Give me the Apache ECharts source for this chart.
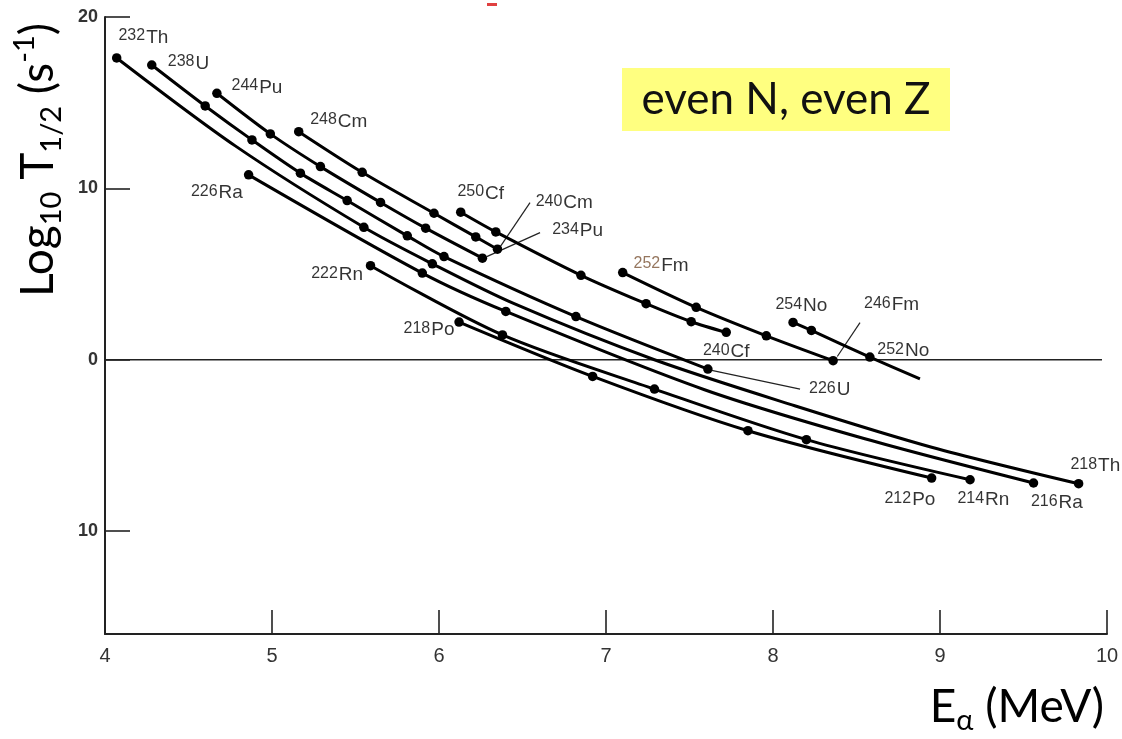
<!DOCTYPE html>
<html>
<head>
<meta charset="utf-8">
<script src="https://cdn.jsdelivr.net/npm/echarts@6/dist/echarts.min.js"></script>
<style>
  html, body { margin: 0; background: #fff; }
  #chart { width: 1122px; height: 739px; }
</style>
</head>
<body>
<div id="chart"></div>
<script>
// Q-alpha (MeV), log10 T1/2 (s), 1 = dot drawn at this point
const thorium = [[4.07, 17.61, 1], [4.78, 12.48, 0], [5.55, 7.73, 1], [5.96, 5.6, 1], [6.45, 3.27, 0],
  [7.29, 0.0, 0], [8.13, -2.68, 0], [8.95, -5.1, 0], [9.83, -7.23, 1]];
const uranium = [[4.28, 17.2, 1], [4.6, 14.81, 1], [4.88, 12.83, 1], [5.17, 10.89, 1], [5.45, 9.29, 1],
  [5.81, 7.23, 1], [6.03, 6.02, 1], [6.82, 2.52, 1], [7.61, -0.54, 1]];
const plutonium = [[4.67, 15.55, 1], [4.99, 13.18, 1], [5.29, 11.27, 1], [5.65, 9.18, 1], [5.92, 7.68, 1], [6.26, 5.93, 1]];
const curium = [[5.16, 13.31, 1], [5.54, 10.94, 1], [5.97, 8.55, 1], [6.22, 7.17, 1], [6.35, 6.45, 1]];
const californium = [[6.13, 8.61, 1], [6.34, 7.46, 1], [6.85, 4.93, 1], [7.24, 3.27, 1], [7.51, 2.22, 1], [7.72, 1.6, 1]];
const fermium = [[7.1, 5.09, 1], [7.54, 3.06, 1], [7.96, 1.4, 1], [8.36, -0.05, 1]];
const nobelium = [[8.12, 2.18, 1], [8.23, 1.71, 1], [8.58, 0.16, 1], [8.88, -1.11, 0]];
const radium = [[4.86, 10.79, 1], [5.9, 5.06, 1], [6.4, 2.82, 1], [7.59, -1.75, 0], [8.55, -4.61, 0], [9.56, -7.19, 1]];
const radon = [[5.59, 5.49, 1], [6.38, 1.45, 1], [7.29, -1.71, 1], [8.2, -4.66, 1], [9.18, -7.0, 1]];
const polonium = [[6.12, 2.2, 1], [6.92, -0.97, 1], [7.85, -4.14, 1], [8.95, -6.9, 1]];

const chains = [thorium, uranium, plutonium, curium, californium, fermium, nobelium, radium, radon, polonium];

// mass number, element, label centre (E, log T)
const isoLabels = [
  ["232", "Th", 4.23, 18.8], ["238", "U", 4.5, 17.3], ["244", "Pu", 4.91, 15.9], ["248", "Cm", 5.4, 13.9],
  ["226", "Ra", 4.67, 9.75], ["250", "Cf", 6.25, 9.7], ["240", "Cm", 6.75, 9.15], ["234", "Pu", 6.83, 7.5],
  ["222", "Rn", 5.39, 4.95], ["252", "Fm", 7.33, 5.5], ["218", "Po", 5.94, 1.75], ["254", "No", 8.17, 3.15],
  ["246", "Fm", 8.71, 3.2], ["240", "Cf", 7.72, 0.47], ["252", "No", 8.78, 0.52], ["226", "U", 8.34, -1.75],
  ["218", "Th", 9.93, -6.18], ["212", "Po", 8.82, -8.16], ["214", "Rn", 9.26, -8.16], ["216", "Ra", 9.7, -8.34]
];

// leader lines label -> point
const leaders = [[6.545, 9.17, 6.365, 6.57], [6.605, 7.42, 6.286, 6.02], [8.162, -1.71, 7.633, -0.62], [8.521, 2.17, 8.385, 0.19]];

const zeroLine = [[4, 0], [9.97, 0]];
const yTicks = [-10, 0, 10, 20];

const chart = echarts.init(document.getElementById("chart"));

const chainSeries = chains.map(pts => ({
  type: "line",
  smooth: 0.3,
  showAllSymbol: true,
  symbolSize: 9.5,
  silent: true,
  z: 3,
  lineStyle: { width: 3, color: "#000" },
  itemStyle: { color: "#000" },
  data: pts.map(p => ({ value: [p[0], p[1]], symbol: p[2] ? "circle" : "none" }))
}));

const option = {
  backgroundColor: "#fff",
  animation: false,
  grid: { left: 105, right: 15, top: 17, bottom: 105 },
  xAxis: {
    type: "value",
    min: 4,
    max: 10,
    interval: 1,
    axisLine: { onZero: false, lineStyle: { color: "#222", width: 2 } },
    axisTick: { inside: true, length: 24, lineStyle: { color: "#222", width: 1.6 } },
    axisLabel: { color: "#333", fontSize: 20, margin: 12, fontFamily: "Liberation Sans Narrow, Liberation Sans, sans-serif" },
    splitLine: { show: false }
  },
  yAxis: {
    type: "value",
    min: -16,
    max: 20,
    axisLine: { show: true, onZero: false, lineStyle: { color: "#222", width: 2 } },
    axisTick: { inside: true, length: 25, customValues: yTicks, lineStyle: { color: "#222", width: 1.6 } },
    axisLabel: {
      customValues: yTicks,
      color: "#333",
      fontSize: 18,
      fontWeight: "bold",
      margin: 7,
      fontFamily: "Liberation Sans, sans-serif",
      formatter: v => String(Math.abs(v))
    },
    splitLine: { show: false }
  },
  graphic: [
    {
      type: "text",
      x: 38,
      y: 160,
      rotation: Math.PI / 2,
      style: {
        text: "{a|Log}{b|10}{a| T}{b|1/2}{a| (s}{c|-1}{a|)}",
        align: "center",
        verticalAlign: "middle",
        fill: "#000",
        rich: {
          a: { fontFamily: "Lato", fontSize: 46, lineHeight: 56, verticalAlign: "middle", fill: "#000" },
          b: { fontFamily: "Lato", fontSize: 29, lineHeight: 30, verticalAlign: "bottom", fill: "#000" },
          c: { fontFamily: "Lato", fontSize: 29, lineHeight: 30, verticalAlign: "top", fill: "#000" }
        }
      }
    },
    {
      type: "text",
      x: 1104,
      y: 707,
      style: {
        text: "{a|E}{b|α}{a| (MeV)}",
        align: "right",
        verticalAlign: "middle",
        fill: "#000",
        rich: {
          a: { fontFamily: "Lato", fontSize: 46, lineHeight: 56, verticalAlign: "middle", fill: "#000" },
          b: { fontFamily: "Lato", fontSize: 29, lineHeight: 30, verticalAlign: "bottom", fill: "#000" }
        }
      }
    },
    { type: "rect", shape: { x: 622, y: 68, width: 328, height: 63 }, style: { fill: "#ffff80" } },
    {
      type: "text",
      x: 786,
      y: 100,
      style: { text: "even N, even Z", fontFamily: "Lato", fontSize: 44, fill: "#111", align: "center", verticalAlign: "middle" }
    },
    { type: "rect", shape: { x: 487, y: 3, width: 10, height: 3 }, style: { fill: "#e04040" } }
  ],
  series: [
    {
      type: "line",
      silent: true,
      symbol: "none",
      z: 2,
      lineStyle: { width: 1.5, color: "#222" },
      data: zeroLine
    },
    ...chainSeries,
    {
      type: "lines",
      coordinateSystem: "cartesian2d",
      silent: true,
      z: 2,
      lineStyle: { width: 1.2, color: "#222", opacity: 1 },
      data: leaders.map(l => ({ coords: [[l[0], l[1]], [l[2], l[3]]] }))
    },
    {
      type: "scatter",
      silent: true,
      symbolSize: 0,
      z: 5,
      data: isoLabels.map(l => ({ value: [l[2], l[3]], mass: l[0], el: l[1] })),
      label: {
        show: true,
        position: "inside",
        formatter: p => (p.data.mass === "252" && p.data.el === "Fm")
          ? `{mb|${p.data.mass}}{e|${p.data.el}}`
          : `{m|${p.data.mass}}{e|${p.data.el}}`,
        rich: {
          m: { fontFamily: "Liberation Sans", fontSize: 16, lineHeight: 16, verticalAlign: "top", color: "#000" },
          mb: { fontFamily: "Liberation Sans", fontSize: 16, lineHeight: 16, verticalAlign: "top", color: "#7a5436" },
          e: { fontFamily: "Liberation Sans", fontSize: 19, lineHeight: 19, verticalAlign: "bottom", padding: [13, 0, 0, 1], color: "#000" }
        }
      }
    }
  ]
};

chart.setOption(option);
</script>
</body>
</html>
